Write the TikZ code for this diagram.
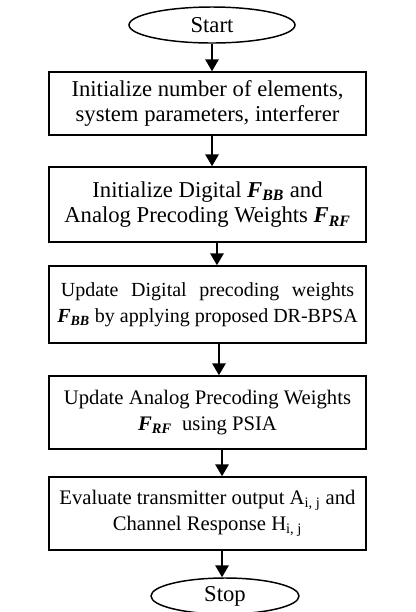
\documentclass[tikz,border=0pt]{standalone}
\usepackage{fontspec}
\setmainfont{Liberation Serif}
\usetikzlibrary{arrows.meta,shapes.geometric}

\newcommand{\bfF}[1]{\textbf{\textit{F}}\textsubscript{\textbf{\textit{#1}}}}

\tikzset{
    procbox/.style={draw, line width=1.1pt, minimum width=237.75pt, inner sep=0.75pt, align=center, font=\fontsize{17}{19}\selectfont},
    procsmall/.style={procbox, font=\fontsize{15.5}{19.5}\selectfont},
    termnode/.style={draw, ellipse, line width=1.1pt, inner sep=0pt, minimum height=27pt, font=\fontsize{17}{19}\selectfont},
    flow/.style={-{Triangle[width=10pt,length=9pt]}, line width=1.6pt}
}

\begin{document}
\begin{tikzpicture}[x=0.75pt,y=0.75pt,yscale=-1,xscale=1]
    \useasboundingbox (0,0) rectangle (416,612);

    % Terminal: Start
    \node [termnode, minimum width=124.5pt] (start) at (212,25) {Start};
    % Process boxes
    \node [procbox, minimum height=47.25pt] (init) at (207.5,103.5) {Initialize number of elements,\\system parameters, interferer};
    \node [procbox, minimum height=56.25pt] (initw) at (207.5,204.5) {Initialize Digital \bfF{BB} and\\Analog Precoding Weights \bfF{RF}};
    \node [procsmall, minimum height=57.75pt, font=\fontsize{15}{19.5}\selectfont] (digit) at (207.5,304.5) {\makebox[220pt][s]{Update Digital precoding weights}\\\bfF{BB} by applying proposed DR-BPSA};
    \node [procsmall, minimum height=54.75pt] (analog) at (207.5,412.5) {Update Analog Precoding Weights\\\bfF{RF}\ \ using PSIA};
    \node [procsmall, minimum height=54.75pt] (eval) at (207.5,513.5) {Evaluate transmitter output A\textsubscript{i, j} and\\Channel Response H\textsubscript{i, j}};
    % Terminal: Stop
    \node [termnode, minimum width=111pt] (stop) at (225,596) {Stop};

    % Arrows
    \draw [flow] (start.south) -- (start.south |- init.north);
    \draw [flow] ([xshift=3.4pt]init.south) -- ([xshift=3.4pt]initw.north);
    \draw [flow] ([xshift=7.1pt]initw.south) -- ([xshift=7.1pt]digit.north);
    \draw [flow] ([xshift=8.6pt]digit.south) -- ([xshift=8.6pt]analog.north);
    \draw [flow] ([xshift=10.9pt]analog.south) -- ([xshift=10.9pt]eval.north);
    \draw [flow] ([xshift=10.9pt]eval.south) -- ([xshift=10.9pt]eval.south |- stop.north);
\end{tikzpicture}
\end{document}
